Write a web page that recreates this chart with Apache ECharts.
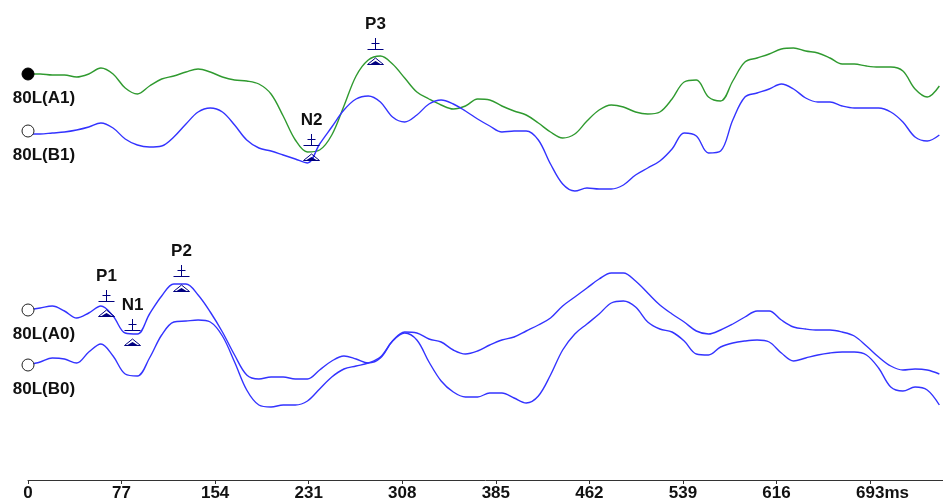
<!DOCTYPE html>
<html><head><meta charset="utf-8">
<script src="https://cdn.jsdelivr.net/npm/echarts@6/dist/echarts.min.js"></script>
<style>html,body{margin:0;padding:0;background:#fff}#c{width:943px;height:503px}</style>
</head><body><div id="c"></div>
<script>
// sampling times (ms)
const timesMs = [0,10,20,30,40,50,60,70,80,90,100,110,120,130,140,150,160,170,180,190,200,210,220,230,240,250,260,270,280,290,300,310,320,330,340,350,360,370,380,390,400,410,420,430,440,450,460,470,480,490,500,510,520,530,540,550,560,570,580,590,600,610,620,630,640,650,660,670,680,690,700,710,720,730,740,750];
const tickValues = [0,77,154,231,308,385,462,539,616,693];
const channelNames = ['80L(A1)','80L(B1)','80L(A0)','80L(B0)'];
const channelBaselines = [406,349,170,115];
const channelColors = ['#2f9a2f','#3333ff','#3333ff','#3333ff'];
// amplitudes (positive up) relative to each channel baseline
const ampA1 = [0,0,-1,-1,-3,0,6,0,-14,-20,-12,-5,-2,2,5,2,-3,-6,-7,-10,-20,-42,-66,-78,-76,-61,-32,-2,14,18,10,-4,-18,-25,-31,-35,-32,-25,-26,-32,-37,-41,-49,-58,-64,-60,-47,-36,-31,-33,-38,-40,-38,-25,-8,-6,-23,-27,-7,12,16,20,25,26,23,21,16,10,10,8,7,7,3,-15,-23,-12];
const ampB1 = [-3,-3,-2,-1,1,4,8,3,-8,-14,-16,-15,-6,7,19,23,19,6,-9,-17,-20,-24,-28,-32,-13,4,21,32,35,29,14,9,16,27,31,27,20,12,5,-1,0,0,-9,-33,-53,-60,-57,-58,-58,-54,-44,-37,-30,-18,-2,-5,-22,-20,11,34,38,42,47,42,33,29,29,25,23,23,23,19,9,-6,-10,-4];
const ampA0 = [0,2,4,-1,-8,-3,4,-6,-23,-24,-4,14,26,26,15,-2,-22,-45,-65,-69,-67,-67,-69,-69,-60,-51,-46,-49,-53,-48,-31,-22,-23,-29,-32,-40,-44,-41,-35,-30,-27,-21,-15,-8,4,13,22,31,37,37,29,17,5,-4,-12,-21,-24,-20,-14,-7,-1,-1,-10,-17,-19,-20,-20,-22,-26,-36,-47,-56,-60,-59,-60,-64];
const ampB0 = [0,3,7,6,2,13,21,9,-9,-11,7,30,43,44,45,43,29,3,-25,-40,-42,-40,-40,-36,-24,-12,-4,-1,2,8,24,32,25,3,-16,-27,-32,-32,-28,-28,-33,-38,-31,-10,15,31,41,51,62,64,58,43,36,33,24,11,10,18,22,24,25,23,12,4,7,10,12,13,13,10,-3,-22,-26,-22,-25,-40];
const channelAmps = [ampA1, ampB1, ampA0, ampB0];
// peak markers
const peakNames = ['P1','N1','P2','N2','P3'];
const peakTimes = [64.4,85.4,126.1,233.1,285.7];
const peakChannel = [2,2,2,0,0];
const peakAmps = [4,-25,29,-76,20];

const FONT = '"Liberation Sans", Arial, sans-serif';
const chart = echarts.init(document.getElementById('c'), null, {renderer:'canvas'});

const lineSeries = channelAmps.map((amps, ci) => ({
  type: 'line', name: channelNames[ci], z: 2,
  data: timesMs.map((t, i) => [t, channelBaselines[ci] + amps[i]]),
  showSymbol: false, smooth: 0.35,
  lineStyle: {color: channelColors[ci], width: 1.4, opacity: 1},
  emphasis: {disabled: true}
}));

const circleSeries = {
  type: 'scatter', z: 3, symbolSize: 12,
  itemStyle: {opacity: 1},
  data: channelNames.map((n, ci) => ({
    value: [0, channelBaselines[ci]], name: n,
    itemStyle: ci === 0 ? {color: '#000', borderColor: '#000', borderWidth: 1, opacity: 1}
                        : {color: '#fff', borderColor: '#222', borderWidth: 1, opacity: 1}
  })),
  label: {show: true, formatter: p => p.name, position: 'bottom', distance: 9, offset: [16, 0],
          fontFamily: FONT, fontSize: 17, fontWeight: 'bold', color: '#111', opacity: 1},
  emphasis: {disabled: true}, silent: true
};

const peakSeries = {
  type: 'custom', z: 5, silent: true,
  data: peakNames.map((n, i) => [peakTimes[i], channelBaselines[peakChannel[i]] + peakAmps[i]]),
  renderItem: (params, api) => {
    const p = api.coord([api.value(0), api.value(1)]);
    const x = Math.round(p[0]) + 0.5, y = Math.round(p[1]);
    const c = '#000080';
    const ls = {stroke: c, lineWidth: 1, fill: null};
    return {type: 'group', children: [
      {type: 'line', shape: {x1: x, y1: y - 16, x2: x, y2: y - 5}, style: ls},
      {type: 'line', shape: {x1: x - 4, y1: y - 10.5, x2: x + 4, y2: y - 10.5}, style: ls},
      {type: 'line', shape: {x1: x - 8, y1: y - 4.5, x2: x + 8, y2: y - 4.5}, style: ls},
      {type: 'polygon', shape: {points: [[x - 8, y + 10.5], [x, y + 4], [x + 8, y + 10.5]]}, style: {stroke: c, fill: null, lineWidth: 1}},
      {type: 'polygon', shape: {points: [[x - 5, y + 10], [x, y + 7], [x + 5, y + 10]]}, style: {fill: c}},
      {type: 'text', style: {x: x, y: y - 30, text: peakNames[params.dataIndex], fill: '#111',
        font: 'bold 17px ' + FONT, align: 'center', verticalAlign: 'middle'}}
    ]};
  }
};

chart.setOption({
  animation: false,
  backgroundColor: '#fff',
  grid: {left: 28, right: 0, top: 0, bottom: 23},
  xAxis: {
    type: 'value', min: 0, max: 753, interval: 77,
    axisLine: {show: true, lineStyle: {color: '#333', width: 1}},
    axisTick: {show: true, length: 4, lineStyle: {color: '#333'}},
    splitLine: {show: false},
    axisLabel: {
      margin: 5, fontFamily: FONT, fontSize: 17, fontWeight: 'bold', color: '#111',
      showMaxLabel: false,
      formatter: v => {
        if (tickValues.indexOf(v) < 0) return '';
        return v === tickValues[tickValues.length - 1] ? '{s|}' + v + 'ms' : String(v);
      },
      rich: {s: {width: 25}}
    }
  },
  yAxis: {type: 'value', min: 0, max: 480, show: false},
  series: [...lineSeries, circleSeries, peakSeries]
});
</script></body></html>
